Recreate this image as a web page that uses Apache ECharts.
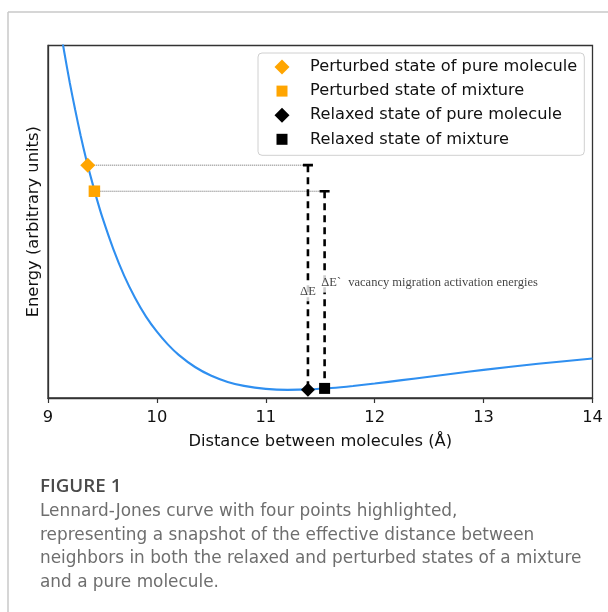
<!DOCTYPE html>
<html lang="en">
<head>
  <meta charset="UTF-8">
  <title>Lennard-Jones curve</title>
  <style>
    html, body { margin: 0; padding: 0; background: #fff; }
    #chart { width: 608px; height: 612px; }
  </style>
</head>
<body>
  <div id="chart"></div>
  <script src="https://cdn.jsdelivr.net/npm/echarts@6/dist/echarts.min.js"></script>
  <script>
    // curve (distance in Å, energy in well-depth units)
    var curveX = [9.12, 9.15, 9.2, 9.25, 9.3, 9.35, 9.4, 9.45, 9.5, 9.6, 9.7, 9.8, 9.9, 10.0,
      10.1, 10.2, 10.35, 10.5, 10.65, 10.8, 11.0, 11.2, 11.4, 11.6, 11.8, 12.0, 12.25, 12.5,
      12.75, 13.0, 13.5, 14.0];
    var curveY = [5.13, 4.80, 4.28, 3.81, 3.37, 2.97, 2.61, 2.27, 1.96, 1.42, 0.96, 0.58, 0.26, 0.0,
      -0.218, -0.398, -0.607, -0.758, -0.863, -0.932, -0.983, -1.0, -0.992, -0.968, -0.933, -0.891,
      -0.833, -0.774, -0.714, -0.657, -0.552, -0.461];

    // highlighted states: [perturbed, relaxed]
    var pureX = [9.365, 11.387];
    var pureY = [2.863, -1.0];
    var mixX = [9.426, 11.54];
    var mixY = [2.415, -0.975];

    var seriesNames = ['Perturbed state of pure molecule', 'Perturbed state of mixture',
      'Relaxed state of pure molecule', 'Relaxed state of mixture'];

    var annoX = [11.387, 11.6, 11.757];
    var annoY = [0.686, 0.836, 0.836];
    var annoText = ['ΔE', 'ΔE`', 'vacancy migration activation energies'];

    var capHalf = 0.046;
    var orange = '#ffa500';
    var axisFont = 'DejaVu Sans';

    function segment(pts, style) {
      return {
        type: 'line',
        data: pts,
        symbol: 'none',
        silent: true,
        z: 3,
        lineStyle: style
      };
    }

    function mark(name, x, y, symbol, size, color) {
      return {
        type: 'scatter',
        name: name,
        data: [[x, y]],
        symbol: symbol,
        symbolSize: size,
        itemStyle: { color: color, opacity: 1 },
        z: 5
      };
    }

    var chart = echarts.init(document.getElementById('chart'));
    var sqIcon = 'path://M0,0M16,16M2.5,2.5L13.5,2.5L13.5,13.5L2.5,13.5Z';
    var dmIcon = 'path://M0,0M16,16M8,0.5L15.5,8L8,15.5L0.5,8Z';

    chart.setOption({
      animation: false,
      backgroundColor: '#fff',
      grid: {
        left: 48, right: 15.5, top: 45.5, bottom: 214,
        show: true, borderColor: '#333', borderWidth: 1.3, backgroundColor: 'transparent'
      },
      legend: {
        left: 258, top: 53,
        orient: 'vertical',
        selectedMode: false,
        backgroundColor: '#fff',
        borderColor: '#d0d0d0', borderWidth: 1, borderRadius: 4,
        padding: [6, 7, 8, 16],
        itemWidth: 16, itemHeight: 16, itemGap: 8.1,
        textStyle: { fontFamily: axisFont, fontSize: 16.2, color: '#111', padding: [0, 0, 0, 15] },
        data: [
          { name: seriesNames[0], icon: dmIcon },
          { name: seriesNames[1], icon: sqIcon },
          { name: seriesNames[2], icon: dmIcon },
          { name: seriesNames[3], icon: sqIcon }
        ]
      },
      xAxis: {
        type: 'value', min: 9, max: 14, interval: 1,
        name: 'Distance between molecules (Å)',
        nameLocation: 'middle', nameGap: 36,
        nameTextStyle: { fontFamily: axisFont, fontSize: 16.3, color: '#111' },
        axisLine: { show: true, onZero: false, lineStyle: { color: '#333', width: 1.3 } },
        axisTick: { show: true, length: 5, lineStyle: { color: '#333', width: 1.2 } },
        axisLabel: { fontFamily: axisFont, fontSize: 16.3, color: '#111', margin: 12 },
        splitLine: { show: false }
      },
      yAxis: {
        type: 'value', min: -1.14, max: 4.92,
        name: 'Energy (arbitrary units)',
        nameLocation: 'middle', nameGap: 6, nameRotate: 90,
        nameTextStyle: { fontFamily: axisFont, fontSize: 16.3, color: '#111' },
        axisLine: { show: true, onZero: false, lineStyle: { color: '#333', width: 1.3 } },
        axisTick: { show: false },
        axisLabel: { show: false },
        splitLine: { show: false }
      },
      graphic: [
        { type: 'line', shape: { x1: 8, y1: 12, x2: 8, y2: 612 }, style: { stroke: '#c8c8c8', lineWidth: 1.5 } },
        { type: 'line', shape: { x1: 8, y1: 12, x2: 608, y2: 12 }, style: { stroke: '#c8c8c8', lineWidth: 1.5 } },
        {
          type: 'text', left: 40, top: 477,
          style: { text: 'FIGURE 1', font: '600 18.8px "Open Sans"', fill: '#4a4a4a' }
        },
        {
          type: 'text', left: 40, top: 499.5,
          style: {
            text: 'Lennard-Jones curve with four points highlighted,\n' +
              'representing a snapshot of the effective distance between\n' +
              'neighbors in both the relaxed and perturbed states of a mixture\n' +
              'and a pure molecule.',
            font: '16.9px "DejaVu Sans"', fill: '#6e6e6e', lineHeight: 23.8
          }
        }
      ],
      series: [
        {
          type: 'line', name: 'curve',
          data: curveX.map(function (x, i) { return [x, curveY[i]]; }),
          symbol: 'none', smooth: 0.3, clip: true, silent: true, z: 2,
          lineStyle: { color: '#2f8ff0', width: 2.1 }
        },
        segment([[pureX[0], pureY[0]], [pureX[1], pureY[0]]], { color: '#555', width: 0.9, type: [1, 1] }),
        segment([[mixX[0], mixY[0]], [mixX[1], mixY[0]]], { color: '#555', width: 0.9, type: [1, 1] }),
        segment([[pureX[1], pureY[0]], [pureX[1], pureY[1]]], { color: '#000', width: 2.6, type: [7, 5] }),
        segment([[mixX[1], mixY[0]], [mixX[1], mixY[1]]], { color: '#000', width: 2.6, type: [7, 5] }),
        segment([[pureX[1] - capHalf, pureY[0]], [pureX[1] + capHalf, pureY[0]]], { color: '#000', width: 2.6 }),
        segment([[mixX[1] - capHalf, mixY[0]], [mixX[1] + capHalf, mixY[0]]], { color: '#000', width: 2.6 }),
        mark(seriesNames[0], pureX[0], pureY[0], 'diamond', 15, orange),
        mark(seriesNames[1], mixX[0], mixY[0], 'rect', 11.5, orange),
        mark(seriesNames[2], pureX[1], pureY[1], 'diamond', 14, '#000'),
        mark(seriesNames[3], mixX[1], mixY[1], 'rect', 11, '#000'),
        {
          type: 'scatter', name: 'notes', silent: true, z: 6,
          symbolSize: 0,
          data: annoX.map(function (x, i) {
            return {
              value: [x, annoY[i]],
              label: i < 2
                ? { show: true, position: 'inside', formatter: annoText[i], backgroundColor: '#fff', padding: [3, 1] }
                : { show: true, position: 'right', distance: 0, formatter: annoText[i] }
            };
          }),
          label: { fontFamily: 'Liberation Serif', fontSize: 12.5, color: '#111' }
        }
      ]
    });
  </script>
</body>
</html>
